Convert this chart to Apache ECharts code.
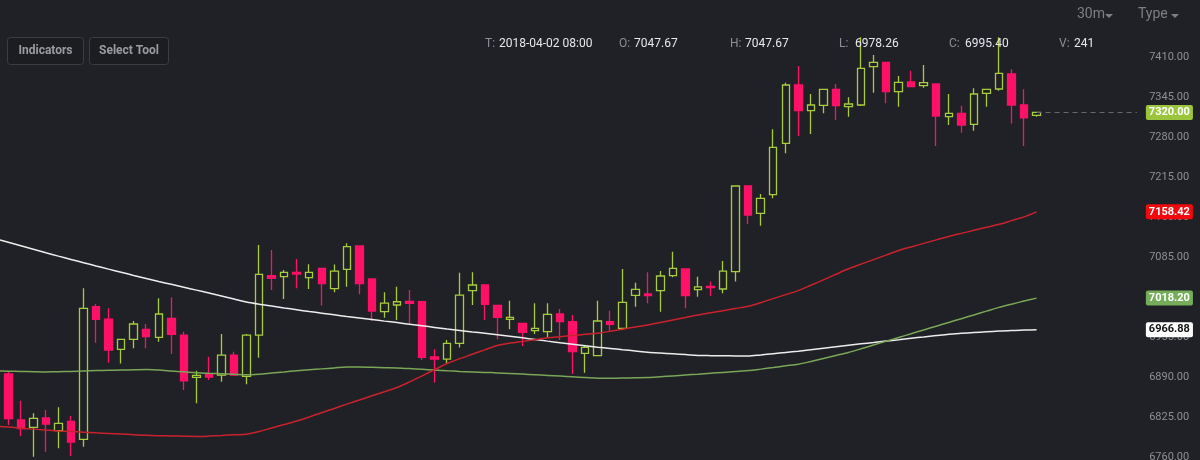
<!DOCTYPE html>
<html><head><meta charset="utf-8">
<script src="https://cdn.jsdelivr.net/npm/echarts@6/dist/echarts.min.js"></script>
<style>html,body{margin:0;padding:0;background:#202126;}#c{width:1200px;height:460px;}</style>
</head><body><div id="c"></div>
<script>
// ---- candle data (30m bars); first slot is the bar just off the left edge ----
const opens  = [null,6894.9,6820.1,6808.2,6823.4,6802.7,6818.0,6788.8,7004.2,6984.2,6935.0,6951.2,6967.5,6954.5,6985.4,6958.2,6889.5,6893.7,6893.2,6925.7,6891.1,6958.2,7054.6,7053.0,7060.1,7051.4,7066.6,7033.7,7065.0,7102.9,7049.3,6996.1,7007.0,7013.0,7012.3,6922.5,6919.2,6944.8,7030.2,7039.5,7006.5,6983.7,6977.0,6965.2,6963.6,6992.4,6979.9,6928.5,6924.6,6979.9,6969.1,7022.8,7024.9,7030.2,7054.6,7065.5,7032.0,7037.4,7033.0,7061.1,7200.4,7156.0,7186.2,7269.8,7364.5,7322.7,7331.5,7357.5,7329.2,7332.0,7394.2,7401.4,7353.6,7369.4,7363.4,7366.1,7313.0,7318.5,7300.6,7351.0,7358.0,7382.4,7332.0,7315.0];
const closes = [null,6822.2,6806.0,6822.8,6813.6,6814.7,6784.4,7001.6,6983.7,6933.9,6951.2,6976.1,6955.5,6992.4,6959.4,6883.9,6892.8,6890.0,6925.7,6893.2,6958.2,7056.9,7050.4,7060.1,7057.4,7060.1,7041.6,7061.9,7101.7,7041.6,6997.2,7010.0,7012.3,7009.8,6922.0,6919.2,6944.8,7023.2,7039.5,7008.1,6987.0,6987.0,6962.4,6969.1,6991.9,6979.9,6931.1,6938.3,6981.0,6975.7,7011.4,7032.5,7022.1,7054.1,7066.6,7022.1,7036.4,7035.1,7062.2,7200.4,7153.2,7180.4,7263.2,7364.5,7322.7,7332.0,7357.5,7330.9,7333.6,7391.6,7401.4,7353.6,7368.9,7361.8,7368.2,7314.1,7318.5,7299.5,7349.9,7357.5,7383.5,7332.0,7311.3,7320.0];
const lows   = [null,6812.0,6794.1,6760.5,6768.6,6774.1,6761.6,6776.7,6945.7,6913.0,6912.0,6936.6,6936.6,6947.4,6927.4,6868.9,6847.3,6885.0,6882.3,6893.0,6878.1,6921.4,7031.4,7016.7,7034.1,7033.0,7006.0,7027.6,7036.7,7024.4,6981.0,6986.4,6982.6,6977.0,6917.6,6880.7,6912.0,6938.0,7007.0,6982.6,6951.2,6967.5,6940.4,6959.9,6954.5,6950.1,6894.9,6897.0,6924.0,6963.6,6966.3,7004.2,7010.0,6996.1,7052.0,7001.6,7020.5,7021.6,7026.0,7045.0,7138.6,7135.9,7180.4,7253.5,7281.6,7284.9,7318.5,7307.6,7313.0,7330.4,7352.0,7334.8,7329.2,7361.0,7360.0,7265.4,7299.5,7287.0,7290.2,7329.2,7355.2,7302.0,7265.4,7313.0];
const highs  = [null,6898.0,6851.5,6831.0,6836.4,6840.8,6826.6,7034.1,7008.6,7001.6,6951.7,6981.0,6976.1,7017.9,7019.5,6963.6,6900.2,6923.0,6959.9,6931.1,6959.9,7104.5,7096.4,7063.9,7081.8,7073.1,7067.0,7072.7,7107.3,7103.0,7049.5,7027.6,7036.7,7031.4,7013.0,6935.0,6950.1,7059.5,7060.1,7040.0,7007.0,7014.0,6977.5,7010.0,7010.0,7000.5,6990.7,6942.0,7014.0,6997.7,7065.5,7043.2,7060.1,7062.2,7093.6,7066.0,7053.0,7045.0,7078.5,7201.0,7201.0,7187.4,7292.5,7368.2,7395.4,7349.9,7358.0,7366.1,7344.5,7442.0,7413.3,7402.0,7379.1,7387.7,7397.0,7366.5,7349.9,7330.9,7359.1,7358.0,7442.0,7390.0,7357.5,7321.0];

// ---- moving averages ----
const maWhite = [7114.6,7109.0,7103.3,7097.6,7091.9,7086.4,7081.1,7075.8,7070.5,7065.3,7060.2,7055.1,7050.1,7045.2,7040.6,7035.9,7031.2,7026.4,7021.5,7016.6,7011.7,7008.2,7005.2,7002.2,6999.3,6996.4,6993.7,6991.0,6988.2,6985.7,6983.3,6980.8,6978.4,6975.8,6973.2,6970.6,6968.0,6965.6,6963.3,6961.1,6958.8,6956.2,6953.6,6951.0,6948.3,6945.8,6943.4,6940.9,6938.5,6936.4,6934.3,6932.3,6930.2,6928.8,6927.6,6926.4,6925.1,6924.7,6924.5,6924.3,6924.1,6925.8,6927.8,6929.9,6931.9,6934.3,6936.8,6939.2,6941.6,6943.9,6946.1,6948.4,6950.6,6952.9,6955.1,6957.4,6959.6,6961.0,6962.2,6963.4,6964.6,6965.7,6966.3,6966.88];
const maGreen = [6899.9,6899.5,6899.1,6898.6,6898.3,6898.5,6899.1,6899.8,6900.4,6900.9,6901.3,6901.7,6902.1,6901.2,6899.8,6898.4,6896.9,6895.9,6895.1,6894.3,6893.5,6894.5,6896.4,6898.2,6900.1,6901.7,6903.2,6904.7,6906.2,6906.2,6905.7,6905.2,6904.7,6903.7,6902.5,6901.3,6900.1,6899.1,6898.3,6897.5,6896.7,6895.7,6894.7,6893.7,6892.6,6891.5,6890.3,6889.1,6887.8,6887.9,6888.3,6888.7,6889.1,6890.4,6891.8,6893.2,6894.6,6896.1,6897.5,6898.9,6900.4,6902.8,6905.4,6908.1,6910.7,6915.2,6920.1,6925.0,6929.9,6935.8,6942.0,6948.1,6954.2,6960.3,6966.5,6972.6,6978.7,6984.8,6990.9,6997.0,7003.1,7008.3,7013.4,7018.20];
const maRed = [6810.2,6808.6,6806.9,6805.3,6803.7,6802.4,6801.4,6800.4,6799.3,6798.3,6797.3,6796.3,6795.2,6794.6,6794.2,6793.8,6793.4,6794.0,6795.0,6796.1,6797.1,6801.4,6807.1,6812.8,6818.5,6825.1,6832.0,6838.9,6845.9,6852.6,6859.4,6866.1,6872.9,6882.0,6891.9,6901.9,6911.9,6919.8,6926.9,6934.1,6941.2,6945.1,6947.9,6950.7,6953.6,6955.6,6957.5,6959.3,6961.1,6964.2,6967.7,6971.2,6974.6,6978.6,6982.6,6986.6,6990.7,6994.3,6997.8,7001.3,7004.8,7010.8,7017.4,7023.9,7030.4,7039.0,7047.9,7056.9,7065.8,7073.4,7080.8,7088.1,7095.5,7101.4,7107.1,7112.8,7118.4,7123.4,7128.3,7133.2,7138.1,7144.1,7150.2,7158.42];

const lastPrice = 7320.00;
const yMin = 6760, yMax = 7475, yStep = 65;
const slotCount = 92; // bar slots incl. one off-screen at left and empty padding at right
const categories = [];
for (let i = 0; i < slotCount; i++) categories.push(String(i));

// header texts
const headerKeys = ['T:', 'O:', 'H:', 'L:', 'C:', 'V:'];
const headerValues = ['2018-04-02 08:00', '7047.67', '7047.67', '6978.26', '6995.40', '241'];
const buttonLabels = ['Indicators', 'Select Tool'];
const menuLabels = ['30m', 'Type'];

const BG = '#202126';
const UP = '#a7cd3f';
const DOWN = '#ff1167';
const FONT = 'Roboto, "Noto Sans", sans-serif';

const candleData = opens.map((o, i) => o === null ? '-' : [o, closes[i], lows[i], highs[i]]);
const lastIdx = opens.length - 1;

function tagLabel(text, bg, fg) {
  return {
    show: true, position: 'end', distance: 9, opacity: 1,
    formatter: text,
    backgroundColor: bg, color: fg, fontFamily: FONT, fontSize: 11, fontWeight: 'bold',
    lineHeight: 12, padding: [2, 3, 1, 3], borderRadius: 2
  };
}
function tag(value, bg, fg) {
  return {
    symbol: 'none', silent: true, animation: false,
    lineStyle: { color: 'rgba(0,0,0,0)', width: 1, type: 'solid' },
    emphasis: { disabled: true },
    label: tagLabel(value.toFixed(2), bg, fg),
    data: [[{ coord: [lastIdx, value] }, { coord: [slotCount - 1, value] }]]
  };
}

const chart = echarts.init(document.getElementById('c'), null, { renderer: 'canvas' });

const graphics = [];
const keyX = [485, 619, 730, 839, 949, 1059];
const valX = [499, 634, 745, 855, 965, 1074];
headerKeys.forEach((k, i) => {
  graphics.push({ type: 'text', x: keyX[i], y: 44, silent: true, z: 100,
    style: { text: k, fill: '#8d8f95', font: '12px ' + FONT, verticalAlign: 'middle' } });
  graphics.push({ type: 'text', x: valX[i], y: 44, silent: true, z: 100,
    style: { text: headerValues[i], fill: '#e8e8ea', font: '12px ' + FONT, verticalAlign: 'middle' } });
});
const btnX = [7, 89], btnW = [76, 79];
buttonLabels.forEach((b, i) => {
  graphics.push({ type: 'rect', silent: true, shape: { x: btnX[i] + 0.5, y: 37.5, width: btnW[i], height: 27, r: 3 },
    style: { fill: '#1c1d21', stroke: '#3c3d42', lineWidth: 1 } });
  graphics.push({ type: 'text', silent: true, x: btnX[i] + btnW[i] / 2 + 0.5, y: 51,
    style: { text: b, fill: '#9a9ca1', font: 'bold 12px ' + FONT, align: 'center', verticalAlign: 'middle' } });
});
const menuX = [1077, 1138], caretX = [1109, 1175];
menuLabels.forEach((m, i) => {
  graphics.push({ type: 'text', silent: true, x: menuX[i], y: 14,
    style: { text: m, fill: '#7d7f85', font: '14px ' + FONT, verticalAlign: 'middle' } });
  graphics.push({ type: 'polygon', silent: true,
    shape: { points: [[caretX[i] - 4, 14], [caretX[i] + 4, 14], [caretX[i], 18]] },
    style: { fill: '#7d7f85' } });
});

chart.setOption({
  backgroundColor: BG,
  animation: false,
  grid: { left: -10.54, right: 56.86, top: 17, bottom: 3, containLabel: false, outerBoundsMode: 'none' },
  xAxis: {
    type: 'category', data: categories, boundaryGap: true,
    axisLine: { show: false }, axisTick: { show: false }, axisLabel: { show: false }, splitLine: { show: false }
  },
  yAxis: {
    type: 'value', position: 'right', min: yMin, max: yMax, interval: yStep, scale: true,
    axisLine: { show: false }, axisTick: { show: false }, splitLine: { show: false },
    axisLabel: {
      show: true, margin: 6, showMaxLabel: false, color: '#8e9096', fontFamily: FONT, fontSize: 11,
      formatter: v => v.toFixed(2)
    }
  },
  series: [
    {
      type: 'candlestick', data: candleData, barWidth: 8,
      itemStyle: { color: 'transparent', color0: DOWN, borderColor: UP, borderColor0: DOWN, borderWidth: 1.3 },
      markLine: {
        symbol: 'none', silent: true, animation: false,
        lineStyle: { color: '#66686d', type: [5, 4], width: 1 },
        label: tagLabel(lastPrice.toFixed(2), '#9bc53c', '#ffffff'),
        data: [[{ coord: [lastIdx, lastPrice] }, { coord: [slotCount - 1, lastPrice] }]]
      }
    },
    { type: 'line', data: maWhite, symbol: 'none', smooth: 0.3, lineStyle: { color: '#ededed', width: 1.5 }, z: 3,
      markLine: tag(maWhite[lastIdx], '#ffffff', '#111111') },
    { type: 'line', data: maGreen, symbol: 'none', smooth: 0.3, lineStyle: { color: '#7aa657', width: 1.5 }, z: 3,
      markLine: tag(maGreen[lastIdx], '#76ad5a', '#ffffff') },
    { type: 'line', data: maRed, symbol: 'none', smooth: 0.3, lineStyle: { color: '#c9222c', width: 1.5 }, z: 3,
      markLine: tag(maRed[lastIdx], '#f0090d', '#ffffff') }
  ],
  graphic: graphics
});
</script></body></html>
